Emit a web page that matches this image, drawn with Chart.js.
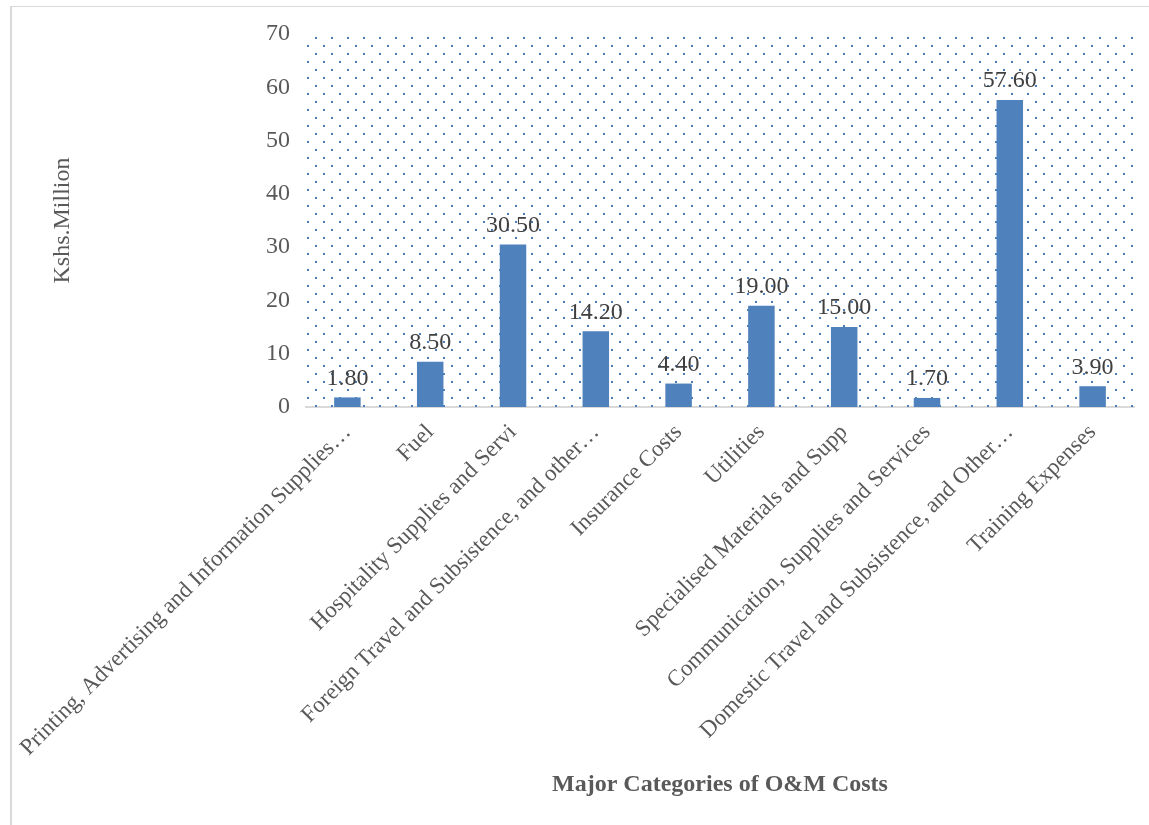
<!DOCTYPE html>
<html>
<head>
<meta charset="utf-8">
<script src="https://cdn.jsdelivr.net/npm/chart.js@4"></script>
<style>
  body { margin: 0; background: #fff; }
  #frame { position: absolute; left: 10px; top: 6px; right: 0; bottom: 0;
           border-left: 2px solid #d9d9d9; border-top: 1px solid #d9d9d9; }
  #chart { position: absolute; left: 0; top: 0; }
</style>
</head>
<body>
<div id="frame"></div>
<canvas id="chart" width="1149" height="825"></canvas>
<script>
var categories = [
  'Printing, Advertising and Information Supplies…',
  'Fuel',
  'Hospitality Supplies and Servi',
  'Foreign Travel and Subsistence, and other…',
  'Insurance Costs',
  'Utilities',
  'Specialised Materials and Supp',
  'Communication, Supplies and Services',
  'Domestic Travel and Subsistence, and Other…',
  'Training Expenses'
];
var costs = [1.8, 8.5, 30.5, 14.2, 4.4, 19.0, 15.0, 1.7, 57.6, 3.9];
var yTicks = { min: 0, max: 70, step: 10 };

var serif = '"Liberation Serif", "Times New Roman", serif';

// dotted fill behind the bars
var dotsPlugin = {
  id: 'dots',
  beforeDatasetsDraw: function(chart) {
    var a = chart.chartArea, ctx = chart.ctx;
    ctx.save();
    ctx.beginPath();
    ctx.rect(a.left, a.top, a.right - a.left, a.bottom - a.top);
    ctx.clip();
    ctx.fillStyle = '#4a7ebb';
    var row = 0;
    for (var y = a.top + 3; y < a.bottom; y += 8) {
      var start = (row % 2 === 0) ? a.left + 9 : a.left + 1;
      for (var x = start; x < a.right; x += 16) {
        ctx.fillRect(x, y, 2, 2);
      }
      row++;
    }
    ctx.restore();
  }
};

// value labels over each bar
var valueLabels = {
  id: 'valueLabels',
  afterDatasetsDraw: function(chart) {
    var ctx = chart.ctx;
    var meta = chart.getDatasetMeta(0);
    ctx.save();
    ctx.font = '24px ' + serif;
    ctx.fillStyle = '#404040';
    ctx.textAlign = 'center';
    ctx.textBaseline = 'bottom';
    meta.data.forEach(function(bar, i) {
      ctx.fillText(costs[i].toFixed(2), bar.x, bar.y - 7);
    });
    ctx.restore();
  }
};

new Chart(document.getElementById('chart'), {
  type: 'bar',
  data: {
    labels: categories,
    datasets: [{
      label: 'O&M Costs',
      data: costs,
      backgroundColor: '#4f81bd',
      borderWidth: 0,
      barPercentage: 1,
      categoryPercentage: 0.32
    }]
  },
  plugins: [dotsPlugin, valueLabels],
  options: {
    responsive: false,
    animation: false,
    layout: { padding: { left: 0, right: 15, top: 34, bottom: 0 } },
    plugins: {
      legend: { display: false },
      tooltip: { enabled: false }
    },
    scales: {
      x: {
        grid: { display: false, drawTicks: false },
        border: { display: true, color: '#d9d9d9', width: 2 },
        ticks: {
          autoSkip: false,
          minRotation: 45,
          maxRotation: 45,
          padding: 12,
          color: '#595959',
          font: { family: serif, size: 23 }
        },
        title: {
          display: true,
          text: 'Major Categories of O&M Costs',
          color: '#595959',
          font: { family: serif, size: 24, weight: 'bold' },
          padding: { top: 0, bottom: 26 }
        },
        afterFit: function(scale) {
          scale.height = 418;
          scale.paddingLeft = 0;
          scale.paddingRight = 0;
        }
      },
      y: {
        min: yTicks.min,
        max: yTicks.max,
        grid: { display: false, drawTicks: false },
        border: { display: false },
        ticks: {
          stepSize: yTicks.step,
          padding: 16,
          color: '#595959',
          font: { family: serif, size: 24 }
        },
        title: {
          display: true,
          text: 'Kshs.Million',
          color: '#595959',
          font: { family: serif, size: 24 },
          padding: { top: 48, bottom: 0 }
        },
        afterFit: function(scale) { scale.width = 306; }
      }
    }
  }
});
</script>
</body>
</html>
